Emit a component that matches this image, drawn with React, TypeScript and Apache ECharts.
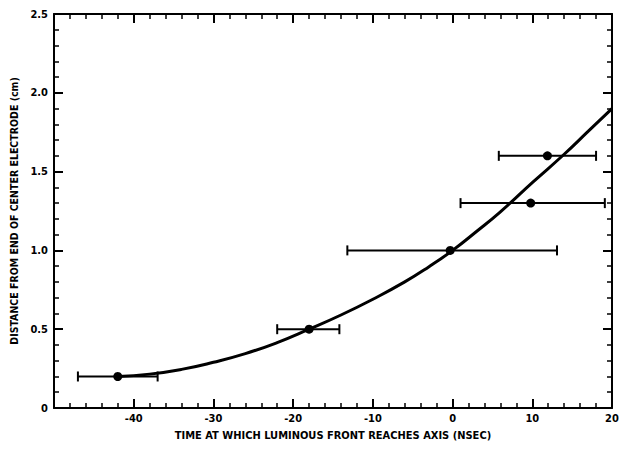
import React, { useEffect, useRef } from "react";
import * as echarts from "echarts";

const pointX = [-42, -18, -0.3, 9.8, 11.9];
const pointY = [0.2, 0.5, 1.0, 1.3, 1.6];
const errLow = [-47, -22, -13.2, 1, 5.8];
const errHigh = [-37, -14.2, 13.1, 19.1, 18];

const curveX = [-42, -38, -34, -30, -26, -22, -18, -14, -10, -6, -3, 0, 3, 6, 10, 14, 17, 20];
const curveY = [0.2, 0.215, 0.245, 0.29, 0.345, 0.415, 0.5, 0.59, 0.69, 0.8, 0.895, 1.0, 1.12, 1.245, 1.43, 1.61, 1.755, 1.9];

const xTitle = "TIME AT WHICH LUMINOUS FRONT REACHES AXIS (NSEC)";
const yTitle = "DISTANCE FROM END OF CENTER ELECTRODE (cm)";

const FONT = "'Liberation Sans Narrow', 'DejaVu Sans Condensed', 'Liberation Sans', sans-serif";

export default function App() {
  const ref = useRef<HTMLDivElement>(null);
  useEffect(() => {
    if (!ref.current) return;
    const chart = echarts.init(ref.current, undefined, { renderer: "svg" });
    const axisCommon = {
      axisLine: { show: true, onZero: false, lineStyle: { color: "#000", width: 2 } },
      axisTick: { show: true, inside: true, length: 9, lineStyle: { color: "#000", width: 2 } },
      minorTick: { show: true, splitNumber: 5, length: 5, lineStyle: { color: "#000", width: 1.5 } },
      splitLine: { show: false },
      minorSplitLine: { show: false },
    };
    chart.setOption({
      animation: false,
      backgroundColor: "#fff",
      grid: { left: 54, right: 15, top: 14, bottom: 42, containLabel: false },
      xAxis: [
        {
          type: "value",
          min: -50,
          max: 20,
          interval: 10,
          position: "bottom",
          ...axisCommon,
          axisLabel: {
            color: "#000",
            fontFamily: FONT,
            fontWeight: "bold",
            fontSize: 11,
            margin: 5,
            formatter: (v: number) => (v === -50 ? "" : String(v)),
          },
          name: xTitle,
          nameLocation: "middle",
          nameGap: 22,
          nameTextStyle: { color: "#000", fontFamily: FONT, fontWeight: "bold", fontSize: 11 },
        },
        {
          type: "value",
          min: -50,
          max: 20,
          interval: 10,
          position: "top",
          ...axisCommon,
          axisLabel: { show: false },
        },
      ],
      yAxis: [
        {
          type: "value",
          min: 0,
          max: 2.5,
          interval: 0.5,
          position: "left",
          ...axisCommon,
          axisLabel: {
            color: "#000",
            fontFamily: FONT,
            fontWeight: "bold",
            fontSize: 11,
            margin: 6,
            formatter: (v: number) => (v === 0 ? "0" : v.toFixed(1)),
          },
          name: yTitle,
          nameLocation: "middle",
          nameGap: 31,
          nameRotate: 90,
          nameTextStyle: { color: "#000", fontFamily: FONT, fontWeight: "bold", fontSize: 10.5 },
        },
        {
          type: "value",
          min: 0,
          max: 2.5,
          interval: 0.5,
          position: "right",
          ...axisCommon,
          axisLabel: { show: false },
        },
      ],
      series: [
        {
          type: "line",
          data: curveX.map((x, i) => [x, curveY[i]]),
          smooth: 0.5,
          showSymbol: false,
          symbol: "none",
          lineStyle: { color: "#000", width: 3 },
          z: 3,
        },
        {
          type: "custom",
          data: pointY.map((y, i) => [errLow[i], errHigh[i], y]),
          renderItem: (params: any, api: any) => {
            const lo = api.coord([api.value(0), api.value(2)]);
            const hi = api.coord([api.value(1), api.value(2)]);
            const cap = 5;
            const style = { stroke: "#000", lineWidth: 2 };
            return {
              type: "group",
              children: [
                { type: "line", shape: { x1: lo[0], y1: lo[1], x2: hi[0], y2: hi[1] }, style },
                { type: "line", shape: { x1: lo[0], y1: lo[1] - cap, x2: lo[0], y2: lo[1] + cap }, style },
                { type: "line", shape: { x1: hi[0], y1: hi[1] - cap, x2: hi[0], y2: hi[1] + cap }, style },
              ],
            };
          },
          z: 2,
        },
        {
          type: "scatter",
          data: pointX.map((x, i) => [x, pointY[i]]),
          symbol: "circle",
          symbolSize: 9,
          itemStyle: { color: "#000", opacity: 1 },
          z: 4,
        },
      ],
    });
    return () => chart.dispose();
  }, []);
  return (
    <div
      ref={ref}
      style={{ position: "fixed", left: 0, top: 0, width: 627, height: 450, background: "#fff" }}
    />
  );
}
